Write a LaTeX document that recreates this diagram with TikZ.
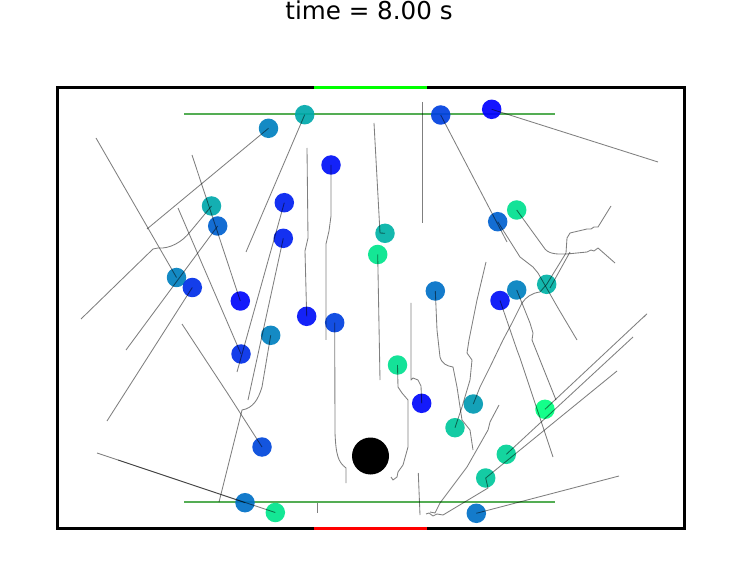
\documentclass[tikz,border=0pt]{standalone}
\usepackage{fontspec}
\setmainfont{DejaVu Sans}
\definecolor{gate}{rgb}{0.33,0.68,0.33}
\begin{document}
\begin{tikzpicture}
[x=1pt, y=-1pt]
\tikzstyle{agent}=[circle, inner sep=0mm, minimum size=19.5pt, fill opacity=0.92]
\tikzstyle{trail}=[draw=black, opacity=0.5, line width=0.85pt, line join=round]
\useasboundingbox (0,0) rectangle (739,585);

\node[font=\fontsize{24.6}{28}\selectfont, anchor=base] (title) at (369,19.5) {time = 8.00 s};

% room, doors and gate lines
\draw[line width=3pt] (57,88) rectangle (684,528);
\draw[line width=3pt, green] (314,88) -- (427,88);
\draw[line width=3pt, red] (314,528) -- (427,528);
\draw[line width=2pt, gate] (184,114) -- (555,114);
\draw[line width=2pt, gate] (184,501.5) -- (555,501.5);

\node[circle, fill=black, inner sep=0mm, minimum size=37pt] (obstacle) at (370.5,456) {};

% agents: number/x/y/colour value
\foreach \n/\px/\py/\v in {
  1/268.5/128.3/0.50, 2/304.7/114.7/0.66, 3/331/165/0.06, 4/211.5/206/0.66,
  5/217.7/226/0.38, 6/284.3/202.7/0.12, 7/283.3/238.3/0.12, 8/176.5/277.5/0.50,
  9/192.3/287.5/0.18, 10/240.3/301/0.03, 11/306.7/316.3/0.06, 12/334.7/322.7/0.25,
  13/270.7/335.3/0.50, 14/241/354/0.18, 15/385/233.3/0.70, 16/377.7/254.5/0.90,
  17/440.7/115/0.25, 18/491.7/109.3/0.0, 19/516.7/210/0.88, 20/497.7/221.7/0.38,
  21/435.3/291/0.44, 22/500/300.5/0.06, 23/516.7/290/0.50, 24/546.7/284.3/0.70,
  25/397.5/365/0.88, 26/421.7/403.3/0.03, 27/473.3/404/0.60, 28/455/427.7/0.78,
  29/545/409.3/1.0, 30/506.3/454.3/0.82, 31/485.7/478/0.78, 32/476.3/513.3/0.44,
  33/262/447/0.28, 34/245/502.7/0.44, 35/275.3/512.5/0.90}
{
  \pgfmathsetmacro{\blu}{1-0.5*\v}
  \definecolor{agentfill}{rgb}{0,\v,\blu}
  \node[agent, fill=agentfill] (A\n) at (\px,\py) {};
}

% trails
\draw[trail] (A1.center) -- (147,229);
\draw[trail] (A2.center) -- (246,252);
\draw[trail] (A3.center) -- (331,216) -- (329,231) -- (326,244) -- (326,340);
\draw[trail] (A4.center) -- (190,232) .. controls (182,242) and (170,249) .. (158,248) -- (153,249) -- (81,319);
\draw[trail] (A5.center) -- (126,350);
\draw[trail] (A6.center) -- (237,372);
\draw[trail] (A7.center) -- (248,400);
\draw[trail] (96,138) -- (A8.center);
\draw[trail] (A9.center) -- (107,421);
\draw[trail] (192,155) -- (A10.center);
\draw[trail] (307,148) -- (308,238) -- (305,251) -- (A11.center);
\draw[trail] (A12.center) -- (335,433) .. controls (336,455) and (338,462) .. (346,468) -- (346,483);
\draw[trail] (A13.center) -- (262,387) .. controls (258,400) and (253,408) .. (242,410) -- (219,502);
\draw[trail] (178,208) -- (A14.center);
\draw[trail] (374,123) -- (380,233) -- (A15.center);
\draw[trail] (A16.center) -- (380,380);
\draw[trail] (A17.center) -- (507,242);
\draw[trail] (A18.center) -- (658,162);
\draw[trail] (A19.center) -- (545,249) .. controls (550,255) and (560,254) .. (567,254) -- (587,252) -- (591,250) -- (594,251) -- (598,248) -- (615,263);
\draw[trail] (611,206) -- (598,227) -- (594,227) -- (591,229) -- (587,229) -- (570,233) -- (567,238) -- (566,253) -- (A24.center);
\draw[trail] (570,252) -- (550,288);
\draw[trail] (A20.center) -- (520,257) -- (533,267) -- (538,273) -- (558,308) -- (577,340);
\draw[trail] (A21.center) -- (437,330) -- (440,357) .. controls (442,364) and (447,366) .. (453,367) -- (457,387) -- (462,420) -- (470,430) -- (473,450);
\draw[trail] (A22.center) -- (517,350) -- (520,358) -- (553,457);
\draw[trail] (A23.center) -- (530,323) -- (533,333) -- (532,340) -- (556,400);
\draw[trail] (A27.center) -- (480,387) -- (490,367) -- (503,340) -- (512,323) -- (522,303) .. controls (526,297) and (532,293) .. (540,292) -- (A24.center);
\draw[trail] (A25.center) -- (398,387) -- (402,393) -- (408,400) -- (408,447) -- (403,465) -- (398,472) -- (397,477) -- (393,480) -- (391,477);
\draw[trail] (411,303) -- (411,380) -- (413,378) -- (418,380) -- (421,386) -- (A26.center);
\draw[trail] (A28.center) -- (462,407) -- (470,380) -- (472,360) -- (467,353) -- (469,340) -- (477,300) -- (486,262);
\draw[trail] (644,317) -- (646.7,314) -- (A29.center);
\draw[trail] (633,337) -- (A30.center);
\draw[trail] (617,371) -- (A31.center);
\draw[trail] (A31.center) -- (488,488) -- (443,515) -- (437,514) -- (433,516) -- (429,513) -- (426,514);
\draw[trail] (A32.center) -- (619,476);
\draw[trail] (182,324) -- (228,394) -- (A33.center);
\draw[trail] (118,460) -- (A34.center);
\draw[trail] (97,453) -- (A35.center);
\draw[trail] (499,405) -- (490,422) -- (488,430) -- (467,467) -- (440,503) -- (435,513) -- (430,512);
\draw[trail] (422.7,102) -- (422.7,223);
\draw[trail] (418.3,473) -- (420,515);
\draw[trail] (317,503) -- (317,513);
\end{tikzpicture}
\end{document}
